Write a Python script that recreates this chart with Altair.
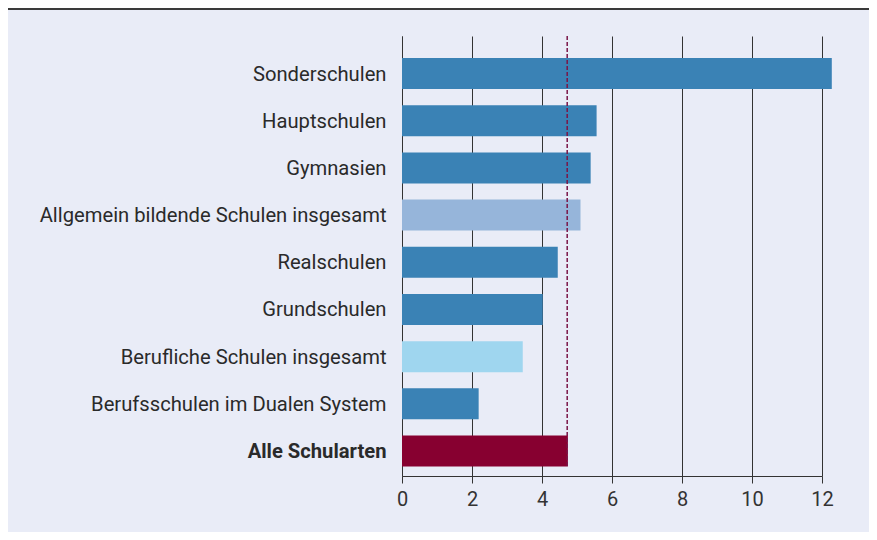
import altair as alt
import pandas as pd

categories = [
    "Sonderschulen",
    "Hauptschulen",
    "Gymnasien",
    "Allgemein bildende Schulen insgesamt",
    "Realschulen",
    "Grundschulen",
    "Berufliche Schulen insgesamt",
    "Berufsschulen im Dualen System",
    "Alle Schularten",
]
values = [12.28, 5.56, 5.39, 5.10, 4.45, 4.02, 3.45, 2.19, 4.74]
groups = ["Schulart", "Schulart", "Schulart", "Allgemein", "Schulart", "Schulart",
          "Beruflich", "Schulart", "Alle"]
group_domain = ["Schulart", "Allgemein", "Beruflich", "Alle"]
group_colors = ["#3a82b5", "#96b5da", "#9fd6ef", "#870030"]
average_value = 4.72
x_ticks = [0, 2, 4, 6, 8, 10, 12]

df = pd.DataFrame({"kategorie": categories, "wert": values, "gruppe": groups})
avg_df = pd.DataFrame({"wert": [average_value]})

FONT = "Roboto"
W, H = 420, 440

bars = alt.Chart(df).mark_bar().encode(
    x=alt.X("wert:Q",
            scale=alt.Scale(domain=[0, 12], nice=False, zero=True),
            axis=alt.Axis(values=x_ticks, title=None, grid=True, gridColor="#333333",
                          gridWidth=1, domainColor="#333333", tickColor="#333333",
                          tickSize=7, labelFontSize=20, labelColor="#333333",
                          labelFont=FONT, labelPadding=6, labelFlush=False)),
    y=alt.Y("kategorie:N", sort=categories,
            scale=alt.Scale(paddingInner=0.343, paddingOuter=0.334, align=0.7),
            axis=alt.Axis(title=None, ticks=False, domainColor="#333333",
                          labelFontSize=20.2, labelColor="#2a2a2a", labelFont=FONT,
                          labelPadding=16, labelLimit=0, labelOffset=1,
                          labelFontWeight=alt.ExprRef(
                              expr="datum.value == 'Alle Schularten' ? 'bold' : 'normal'"))),
    color=alt.Color("gruppe:N", scale=alt.Scale(domain=group_domain, range=group_colors),
                    legend=None),
)

avg_rule = alt.Chart(avg_df).mark_rule(color="#7a1548", strokeWidth=1.5,
                                       strokeDash=[4, 2]).encode(
    x="wert:Q",
    y=alt.value(0),
    y2=alt.value(H - 10),
)

top_line = alt.Chart(avg_df).mark_rule(color="#3a3a3a", strokeWidth=2).encode(
    x=alt.value(-394), x2=alt.value(467), y=alt.value(-27)
)

chart = alt.layer(bars, avg_rule, top_line).properties(
    width=W, height=H,
    autosize=alt.AutoSizeParams(type="none"),
    padding={"left": 394, "top": 28, "right": 47, "bottom": 56},
).configure(background="#e9ecf7").configure_view(stroke=None)

chart.save("out.html", embed_options={"renderer": "svg", "actions": False})
